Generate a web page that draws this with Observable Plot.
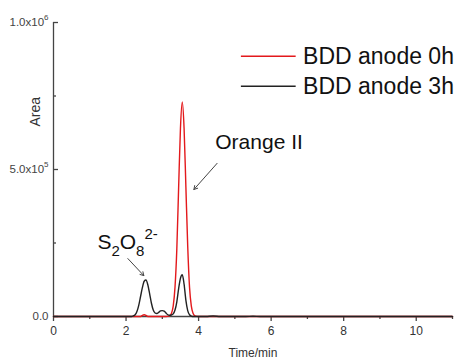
<!DOCTYPE html>
<html><head><meta charset="utf-8">
<script src="https://cdn.jsdelivr.net/npm/d3@7"></script>
<script src="https://cdn.jsdelivr.net/npm/@observablehq/plot@0.6"></script>
<style>
body{margin:0;background:#fff;}
svg{font-family:"Liberation Sans",Arial,sans-serif;}
</style></head><body><div id="chart"></div>
<script>
// Time (min) and Area
const time0h = [0, 2.2, 2.4, 2.45, 2.5, 2.55, 2.6, 2.8, 3.1, 3.2, 3.25, 3.3, 3.35, 3.4, 3.45, 3.5, 3.55, 3.6, 3.65, 3.7, 3.75, 3.8, 3.85, 3.9, 4.0, 11];
const area0h = [0, 0, 0, 4000, 6000, 4000, 0, 0, 0, 2000, 10000, 35000, 100000, 230000, 440000, 640000, 730000, 640000, 440000, 240000, 100000, 35000, 10000, 2000, 0, 0];

const time3h = [0, 2.15, 2.2, 2.25, 2.3, 2.35, 2.4, 2.45, 2.5, 2.55, 2.6, 2.65, 2.7, 2.75, 2.8, 2.85, 2.9, 2.95, 3.0, 3.05, 3.1, 3.15, 3.2, 3.25, 3.3, 3.35, 3.4, 3.45, 3.5, 3.55, 3.6, 3.65, 3.7, 3.75, 3.8, 3.85, 4.2, 4.4, 4.6, 5.3, 5.5, 5.7, 11];
const area3h = [0, 0, 2000, 6000, 17000, 38000, 68000, 98000, 120000, 124000, 108000, 78000, 45000, 22000, 12000, 10000, 14000, 19000, 20000, 18000, 12000, 6000, 4000, 5000, 9000, 22000, 50000, 95000, 130000, 142000, 110000, 55000, 20000, 6000, 1500, 0, 0, 1500, 0, 0, 800, 0, 0];

const seriesNames = ["BDD anode 0h", "BDD anode 3h"];
const seriesColors = ["#e3191c", "#222222"];

const xMajorTicks = [0, 2, 4, 6, 8, 10];
const xMinorTicks = [1, 3, 5, 7, 9, 11];
const yMajorTicks = [0, 500000, 1000000];
const yMinorTicks = [250000, 750000];
const yTickLabels = ["0.0", "5.0x10^{5}", "1.0x10^{6}"];

// legend entries
const legendX1 = [5.18, 5.18];
const legendX2 = [6.69, 6.69];
const legendTextX = [6.88, 6.88];
const legendY = [885000, 783000];

// annotations
const noteTexts = ["Orange II", "S_{2}O_{8}^{2-}"];
const noteX = [4.46, 1.21];
const noteY = [593000, 252000];
const arrowX1 = [4.51, 2.05];
const arrowY1 = [521000, 197000];
const arrowX2 = [3.87, 2.49];
const arrowY2 = [432000, 139000];

const d0 = time0h.map((t, i) => ({t, a: area0h[i]}));
const d3h = time3h.map((t, i) => ({t, a: area3h[i]}));
const legend = seriesNames.map((n, i) => ({n, c: seriesColors[i], x1: legendX1[i], x2: legendX2[i], tx: legendTextX[i], y: legendY[i]}));
const notes = noteTexts.map((s, i) => ({s, x: noteX[i], y: noteY[i], x1: arrowX1[i], y1: arrowY1[i], x2: arrowX2[i], y2: arrowY2[i]}));

const W = 463, H = 361, mL = 53, mR = 11, mT = 22, mB = 45;
const frameW = W - mL - mR, frameH = H - mT - mB;
const axisColor = "#444";
const xTick = (len) => ({x: (d) => d, insetTop: frameH - len, dy: len, stroke: axisColor, strokeWidth: 1.3});
const yTick = (len) => ({y: (d) => d, insetRight: frameW - len, stroke: axisColor, strokeWidth: 1.3});

const chart = Plot.plot({
  width: W, height: H,
  marginLeft: mL, marginRight: mR, marginTop: mT, marginBottom: mB,
  x: {domain: [0, 11]},
  y: {domain: [0, 1000000]},
  marks: [
    Plot.ruleY([0], {x1: 0, x2: 11, stroke: axisColor, strokeWidth: 1.3}),
    Plot.ruleX([0], {y1: 0, y2: 1000000, stroke: axisColor, strokeWidth: 1.3}),
    Plot.tickX(xMajorTicks, xTick(5)),
    Plot.tickX(xMinorTicks, xTick(3)),
    Plot.tickY(yMajorTicks, yTick(5)),
    Plot.tickY(yMinorTicks, yTick(3)),
    Plot.axisX({ticks: xMajorTicks, tickSize: 0, tickPadding: 10, color: "#333", fontSize: 12,
      label: "Time/min", labelAnchor: "center", labelArrow: "none", labelOffset: 40}),
    Plot.axisY({ticks: yMajorTicks, tickSize: 0, tickPadding: 5, color: "#444", fontSize: 11.5,
      tickFormat: (d) => yTickLabels[yMajorTicks.indexOf(d)], label: null}),
    Plot.text(["Area"], {frameAnchor: "left", y: 646000, dx: -18, rotate: -90, fontSize: 14, fill: "#333"}),
    Plot.line(d0, {x: "t", y: "a", stroke: seriesColors[0], strokeWidth: 1.4, curve: "monotone-x"}),
    Plot.line(d3h, {x: "t", y: "a", stroke: seriesColors[1], strokeWidth: 1.4, curve: "monotone-x"}),
    Plot.ruleY(legend, {y: "y", x1: "x1", x2: "x2", stroke: "c", strokeWidth: 1.4}),
    Plot.text(legend, {x: "tx", y: "y", text: "n", textAnchor: "start", fontSize: 23, fill: "#111"}),
    Plot.arrow(notes, {x1: "x1", y1: "y1", x2: "x2", y2: "y2", stroke: "#444", strokeWidth: 1, headLength: 6}),
    Plot.text(notes, {x: "x", y: "y", text: "s", textAnchor: "start", fontSize: 21, fill: "#111"})
  ]
});
document.getElementById("chart").appendChild(chart);

// render sub/superscripts written as _{..} and ^{..} as tspans
d3.select(chart).selectAll("text").each(function() {
  const t = this.textContent;
  if (!/[\^_]\{/.test(t)) return;
  const el = d3.select(this);
  const big = parseFloat(getComputedStyle(this).fontSize) || 12;
  el.text(null);
  const re = /([\^_])\{([^}]*)\}|([^\^_]+)/g;
  let m, shift = 0;
  while ((m = re.exec(t))) {
    const kind = m[1] || "", s = kind ? m[2] : m[3];
    const off = kind === "^" ? -0.5 * big : kind === "_" ? 0.35 * big : 0;
    const sp = el.append("tspan").text(s).attr("dy", off - shift);
    if (kind) sp.attr("font-size", Math.round(big * 0.7));
    shift = off;
  }
});
</script></body></html>
